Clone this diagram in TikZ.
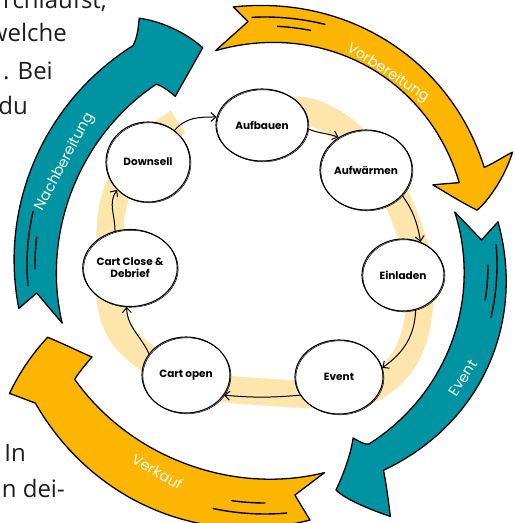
\documentclass[tikz,border=0pt]{standalone}
\usepackage{fontspec}
\setmainfont{Open Sans}
\newfontfamily\handfont{Poppins}
\usetikzlibrary{arrows.meta,shapes.geometric}

\definecolor{ringteal}{RGB}{0,148,163}
\definecolor{ringgold}{RGB}{252,181,0}
\definecolor{bandyellow}{RGB}{253,229,172}
\definecolor{bodytext}{RGB}{30,30,30}

\begin{document}
\begin{tikzpicture}[x=1pt,y=1pt,
  stage/.style={ellipse, fill=white, draw=black, line width=1.1pt, inner sep=0pt,
    align=center, font=\handfont\bfseries\fontsize{10.5}{12}\selectfont,
    postaction={draw, line width=0.5pt, transform canvas={xshift=0.9pt,yshift=-0.8pt}}},
  flow/.style={-{Straight Barb[length=5pt,width=9pt]}, line width=1pt, black},
  ribbon/.style={draw=black, line width=1.3pt, line join=round},
  sketch/.style={line width=1.4pt, line cap=round, black},
  phase/.style={text=white, font=\handfont\fontsize{14.5}{16}\selectfont, inner sep=0pt},
  bgtext/.style={text=bodytext, font=\fontsize{24}{29}\selectfont, inner sep=0pt, anchor=base east}
]
\fill[white] (0,0) rectangle (516,523);
\useasboundingbox (0,0) rectangle (516,523);

% running text of the surrounding page
\node[bgtext] (t1) at (107,514) {rchläufst,};
\node[bgtext] (t2) at (67,481) {welche};
\node[bgtext] (t3) at (53,443) {. Bei};
\node[bgtext] (t4) at (28,408) {du};
\node[bgtext] (t5) at (26,61) {In};
\node[bgtext] (t6) at (65,25) {n dei-};

% four phase ribbons around the cycle
\begin{scope}[shift={(265,258)}]
  % Nachbereitung
  \path[ribbon, fill=ringteal] (190:250)
    -- plot[domain=190:121, samples=40, variable=\t] (\t:{250+6*(190-\t)/69})
    .. controls (119:262) and (118:270) .. (117:277)
    .. controls (112:262) and (108:240) .. (106:226)
    .. controls (110:212) and (115:198) .. (118:191)
    .. controls (119:200) and (120:207) .. (121:211)
    -- plot[domain=121:196, samples=40, variable=\t] (\t:{211-4*sin((\t-121)*180/75)})
    -- (187:230) -- cycle;
  % Vorbereitung
  \path[ribbon, fill=ringgold] (97:260)
    -- plot[domain=97:24, samples=40, variable=\t] (\t:{260-20*(97-\t)/73+5*sin((97-\t)*180/73)})
    .. controls (24:252) and (24.5:264) .. (24.5:272)
    .. controls (20:255) and (16:232) .. (14.5:219)
    .. controls (18:205) and (23:192) .. (25.5:186)
    .. controls (24.5:196) and (23.5:205) .. (23:211)
    -- plot[domain=23:103, samples=40, variable=\t] (\t:{211+9*(\t-23)/80+8*sin((\t-23)*180/80)})
    -- (94:244) -- cycle;
  % Event
  \path[ribbon, fill=ringteal] (10.5:237)
    -- plot[domain=10.5:-60, samples=40, variable=\t] (\t:{237+8*sin((10.5-\t)*180/70.5)})
    .. controls (-61:250) and (-62.5:268) .. (-63.5:281)
    .. controls (-67:265) and (-71:248) .. (-72.5:236)
    .. controls (-69:222) and (-65:205) .. (-63:194)
    .. controls (-62:200) and (-61:205) .. (-60:207)
    -- plot[domain=-60:15.6, samples=40, variable=\t] (\t:{207-10*(\t+60)/75.6})
    -- (6.6:218) -- cycle;
  % Verkauf
  \path[ribbon, fill=ringgold] (280:259)
    -- plot[domain=280:211, samples=40, variable=\t] (\t:{259+9*(280-\t)/69+5*sin((280-\t)*180/69)})
    .. controls (209:276) and (207.5:282) .. (206.7:286)
    .. controls (203:265) and (200:242) .. (198.4:229)
    .. controls (202:214) and (206:202) .. (208:196)
    .. controls (209:205) and (210:215) .. (211:222)
    -- plot[domain=211:286, samples=40, variable=\t] (\t:{222-6*(\t-211)/75-5*sin((\t-211)*180/75)})
    -- (277.4:232) -- cycle;

  % hand-drawn strokes near the tails
  \draw[sketch] plot[domain=185:167, samples=20, variable=\t] (\t:238);
  \draw[sketch] plot[domain=181:173, samples=10, variable=\t] (\t:230);
  \draw[sketch] plot[domain=93:76, samples=20, variable=\t] (\t:248);
  \draw[sketch] plot[domain=87:79, samples=10, variable=\t] (\t:239);
  \draw[sketch] plot[domain=5:-13, samples=20, variable=\t] (\t:232);
  \draw[sketch] plot[domain=0:-9, samples=10, variable=\t] (\t:223);
  \draw[sketch] plot[domain=275:258, samples=20, variable=\t] (\t:249);
  \draw[sketch] plot[domain=270:262, samples=10, variable=\t] (\t:238);

  % phase names
  \node[phase, rotate=-33] (lvor) at (57.4:228) {Vorbereitung};
  \node[phase, rotate=62] (lnach) at (152.7:225) {Nachbereitung};
  \node[phase, rotate=57] (levent) at (-29.7:228) {Event};
  \node[phase, rotate=-30] (lverk) at (242.5:233) {Verkauf};
\end{scope}

% pale band behind the stages
\draw[bandyellow, line width=27pt] plot[smooth, tension=0.6] coordinates {
  (280,413) (310,411) (340,396) (365,373) (388,341) (405,305) (418,263)
  (420,223) (413,183) (396,153) (368,133) (330,128) (265,131) (210,137)
  (160,157) (124,186) (110,223) (110,268) (112,313) (125,348) (150,380) (178,401)};

% stages
\node[stage, minimum width=92pt, minimum height=72pt] (aufbauen) at (262,398) {Aufbauen};
\node[stage, minimum width=92pt, minimum height=80pt] (aufwaermen) at (366,353) {Aufwärmen};
\node[stage, minimum width=82pt, minimum height=72pt] (einladen) at (403,248) {Einladen};
\node[stage, minimum width=88pt, minimum height=74pt] (event) at (339,146) {Event};
\node[stage, minimum width=88pt, minimum height=76pt] (cartopen) at (186,148) {Cart open};
\node[stage, minimum width=90pt, minimum height=77pt] (cartclose) at (130,255) {Cart Close \&\\Debrief};
\node[stage, minimum width=84pt, minimum height=80pt] (downsell) at (148,361) {Downsell};

% flow between stages
\draw[flow] (downsell.50) to[out=50, in=180] (aufbauen.170);
\draw[flow] (aufbauen.-5) to[out=-22, in=160] (aufwaermen.130);
\draw[flow] (aufwaermen.-35) to[out=-55, in=100] (einladen.62);
\draw[flow] (einladen.-70) to[out=-92, in=35] (event.12);
\draw[flow] (event.205) to[out=185, in=-5] (cartopen.-28);
\draw[flow] (cartopen.150) to[out=115, in=-88] (cartclose.-95);
\draw[flow] (cartclose.112) to[out=90, in=235] (downsell.222);
\end{tikzpicture}
\end{document}
